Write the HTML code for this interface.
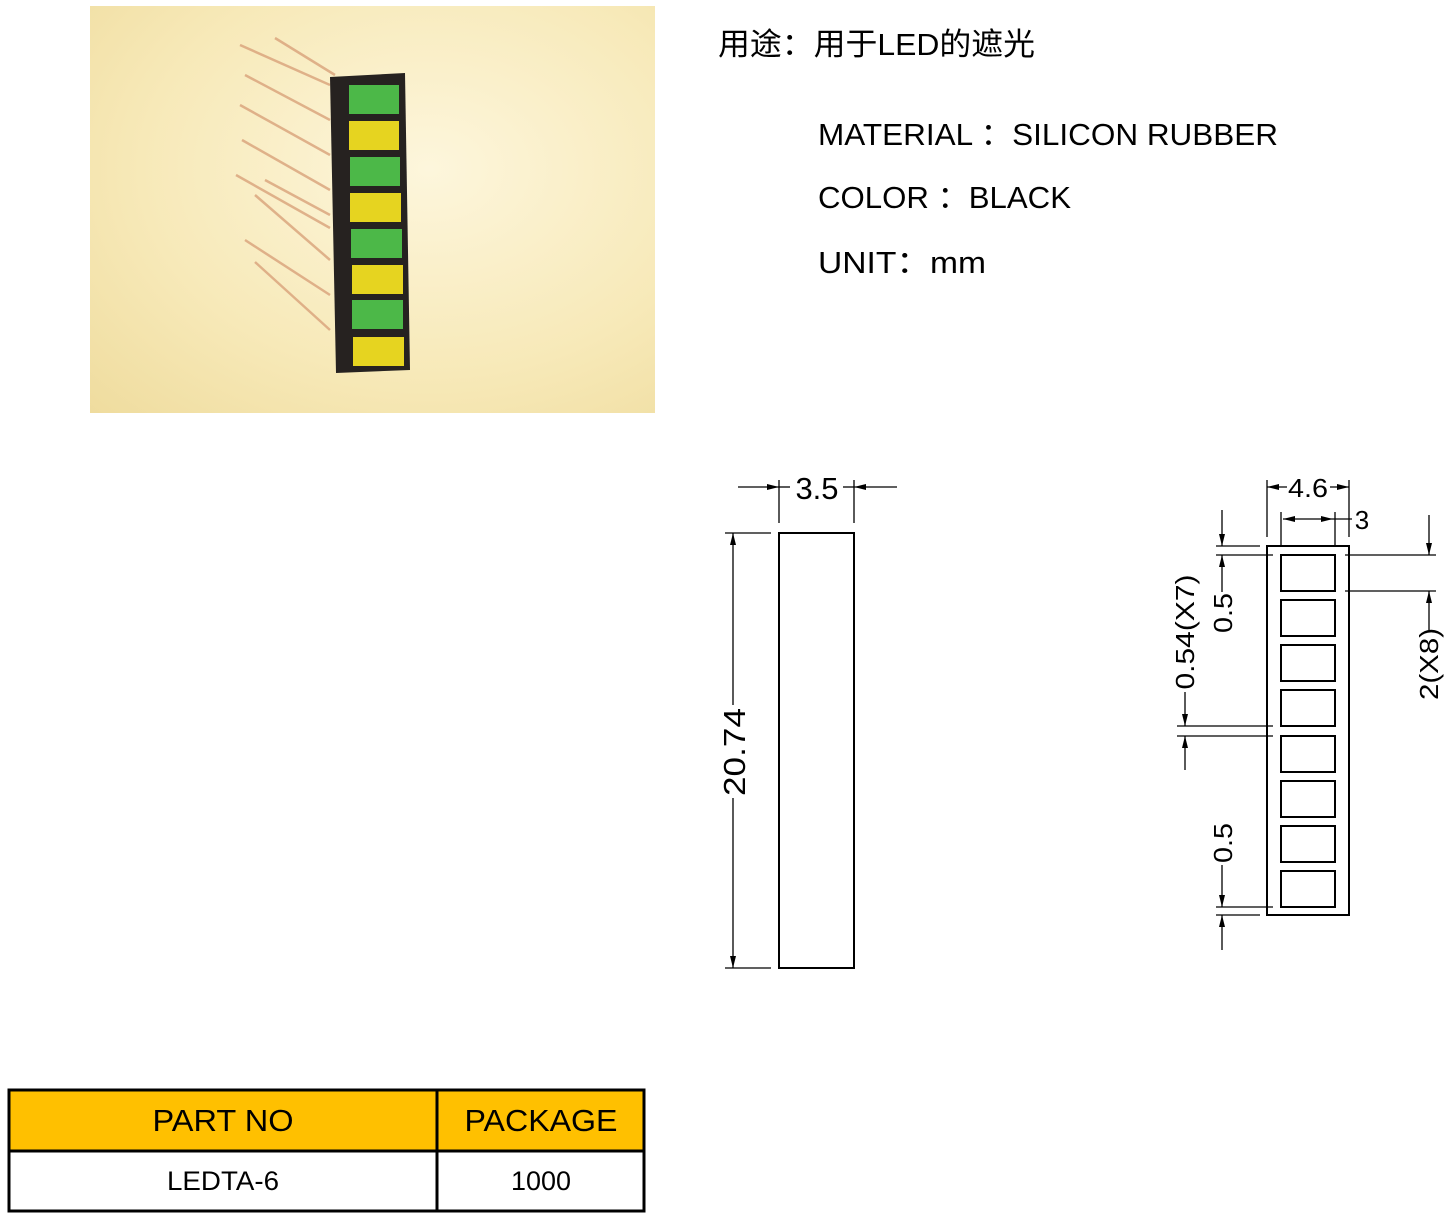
<!DOCTYPE html>
<html><head><meta charset="utf-8"><style>
html,body{margin:0;padding:0;background:#fff;width:1456px;height:1227px;overflow:hidden}
svg{display:block}
</style></head><body>
<svg width="1456" height="1227" viewBox="0 0 1456 1227" xmlns="http://www.w3.org/2000/svg" font-family="Liberation Sans, Noto Sans CJK SC, sans-serif">
<defs>
<radialGradient id="bg" cx="0.6" cy="0.4" r="0.85">
<stop offset="0" stop-color="#fdf6dc"/><stop offset="0.6" stop-color="#f7e9b8"/><stop offset="1" stop-color="#efdc9e"/>
</radialGradient>
<marker id="a" viewBox="0 0 12 6" refX="12" refY="3" markerWidth="12" markerHeight="6" orient="auto" markerUnits="userSpaceOnUse"><path d="M0,0L12,3L0,6z" fill="#000"/></marker>
</defs>
<!-- photo -->
<rect x="90" y="6" width="565" height="407" fill="url(#bg)"/>
<g stroke="#d9a27a" stroke-width="2.5" opacity="0.8">
<line x1="240" y1="45" x2="330" y2="85"/><line x1="275" y1="38" x2="335" y2="75"/>
<line x1="245" y1="75" x2="330" y2="120"/><line x1="240" y1="105" x2="330" y2="155"/>
<line x1="242" y1="140" x2="330" y2="190"/><line x1="236" y1="175" x2="330" y2="228"/>
<line x1="255" y1="195" x2="330" y2="260"/><line x1="245" y1="240" x2="330" y2="295"/>
<line x1="255" y1="262" x2="330" y2="330"/><line x1="265" y1="180" x2="330" y2="215"/>
</g>
<path d="M330,77 L405,73 L410,370 L336,373 Z" fill="#262220"/>
<g>
<rect x="349" y="85" width="50" height="29" fill="#4cb848"/>
<rect x="349" y="121" width="50" height="29" fill="#e6d420"/>
<rect x="350" y="157" width="50" height="29" fill="#4cb848"/>
<rect x="350" y="193" width="51" height="29" fill="#e6d420"/>
<rect x="351" y="229" width="51" height="29" fill="#4cb848"/>
<rect x="352" y="265" width="51" height="29" fill="#e6d420"/>
<rect x="352" y="300" width="51" height="29" fill="#4cb848"/>
<rect x="353" y="337" width="51" height="29" fill="#e6d420"/>
</g>
<!-- text -->
<g font-size="31" fill="#000">
<text x="718" y="55" textLength="317" lengthAdjust="spacingAndGlyphs">用途：用于LED的遮光</text>
<text x="818" y="145" textLength="460" lengthAdjust="spacingAndGlyphs">MATERIAL  ：SILICON RUBBER</text>
<text x="818" y="208" textLength="253" lengthAdjust="spacingAndGlyphs">COLOR  ：BLACK</text>
<text x="818" y="273" textLength="168" lengthAdjust="spacingAndGlyphs">UNIT：mm</text>
</g>
<!-- left drawing -->
<g stroke="#000" fill="none" stroke-width="1.3">
<rect x="779" y="533" width="75" height="435" stroke-width="2"/>
<line x1="779" y1="480" x2="779" y2="523"/><line x1="854" y1="480" x2="854" y2="523"/>
<line x1="738" y1="487" x2="779" y2="487" marker-end="url(#a)"/>
<line x1="897" y1="487" x2="854" y2="487" marker-end="url(#a)"/>
<line x1="779" y1="487" x2="790" y2="487"/><line x1="843" y1="487" x2="854" y2="487"/>
<line x1="725" y1="533" x2="771" y2="533"/><line x1="725" y1="968" x2="771" y2="968"/>
<line x1="733" y1="705" x2="733" y2="533" marker-end="url(#a)"/>
<line x1="733" y1="798" x2="733" y2="968" marker-end="url(#a)"/>
</g>
<text x="817" y="499" font-size="31" text-anchor="middle">3.5</text>
<text transform="translate(745,752) rotate(-90)" font-size="31" text-anchor="middle" textLength="88" lengthAdjust="spacingAndGlyphs">20.74</text>
<!-- right drawing -->
<g stroke="#000" fill="none" stroke-width="1.3">
<rect x="1267" y="546" width="82" height="369" stroke-width="2"/>
<rect x="1281" y="555" width="54" height="36" stroke-width="2"/>
<rect x="1281" y="600" width="54" height="36" stroke-width="2"/>
<rect x="1281" y="645" width="54" height="36" stroke-width="2"/>
<rect x="1281" y="690" width="54" height="36" stroke-width="2"/>
<rect x="1281" y="736" width="54" height="36" stroke-width="2"/>
<rect x="1281" y="781" width="54" height="36" stroke-width="2"/>
<rect x="1281" y="826" width="54" height="36" stroke-width="2"/>
<rect x="1281" y="871" width="54" height="36" stroke-width="2"/>
<line x1="1267" y1="480" x2="1267" y2="537"/><line x1="1349" y1="480" x2="1349" y2="537"/>
<line x1="1287" y1="487" x2="1267" y2="487" marker-end="url(#a)"/>
<line x1="1330" y1="487" x2="1349" y2="487" marker-end="url(#a)"/>
<line x1="1281" y1="512" x2="1281" y2="546"/><line x1="1335" y1="512" x2="1335" y2="546"/>
<line x1="1308" y1="519" x2="1283" y2="519" marker-end="url(#a)"/>
<line x1="1308" y1="519" x2="1333" y2="519" marker-end="url(#a)"/>
<line x1="1333" y1="519" x2="1352" y2="519"/>
<line x1="1216" y1="546" x2="1260" y2="546"/><line x1="1216" y1="555" x2="1273" y2="555"/>
<line x1="1222" y1="510" x2="1222" y2="546" marker-end="url(#a)"/>
<line x1="1222" y1="592" x2="1222" y2="555" marker-end="url(#a)"/>
<line x1="1177" y1="726" x2="1273" y2="726"/><line x1="1177" y1="736" x2="1273" y2="736"/>
<line x1="1185" y1="692" x2="1185" y2="726" marker-end="url(#a)"/>
<line x1="1185" y1="770" x2="1185" y2="736" marker-end="url(#a)"/>
<line x1="1216" y1="907" x2="1273" y2="907"/><line x1="1216" y1="915" x2="1260" y2="915"/>
<line x1="1222" y1="865" x2="1222" y2="907" marker-end="url(#a)"/>
<line x1="1222" y1="950" x2="1222" y2="915" marker-end="url(#a)"/>
<line x1="1345" y1="555" x2="1436" y2="555"/><line x1="1345" y1="591" x2="1436" y2="591"/>
<line x1="1429" y1="515" x2="1429" y2="555" marker-end="url(#a)"/>
<line x1="1429" y1="630" x2="1429" y2="591" marker-end="url(#a)"/>
</g>
<g font-size="26" text-anchor="middle">
<text x="1308" y="497" textLength="40" lengthAdjust="spacingAndGlyphs">4.6</text>
<text x="1362" y="529">3</text>
<text transform="translate(1232,613) rotate(-90)" textLength="40" lengthAdjust="spacingAndGlyphs">0.5</text>
<text transform="translate(1194,632) rotate(-90)" textLength="115" lengthAdjust="spacingAndGlyphs">0.54(X7)</text>
<text transform="translate(1232,843) rotate(-90)" textLength="40" lengthAdjust="spacingAndGlyphs">0.5</text>
<text transform="translate(1438,664) rotate(-90)" textLength="72" lengthAdjust="spacingAndGlyphs">2(X8)</text>
</g>
<!-- table -->
<rect x="9" y="1090" width="635" height="61" fill="#ffc000"/>
<g stroke="#000" stroke-width="3" fill="none">
<rect x="9" y="1090" width="635" height="121"/>
<line x1="9" y1="1151" x2="644" y2="1151"/>
<line x1="437" y1="1090" x2="437" y2="1211"/>
</g>
<g font-size="31" text-anchor="middle">
<text x="223" y="1131" textLength="141" lengthAdjust="spacingAndGlyphs">PART NO</text>
<text x="541" y="1131" textLength="153" lengthAdjust="spacingAndGlyphs">PACKAGE</text>
<text x="223" y="1190" font-size="27" textLength="112" lengthAdjust="spacingAndGlyphs">LEDTA-6</text>
<text x="541" y="1190" font-size="27" textLength="60" lengthAdjust="spacingAndGlyphs">1000</text>
</g>
</svg>
</body></html>
